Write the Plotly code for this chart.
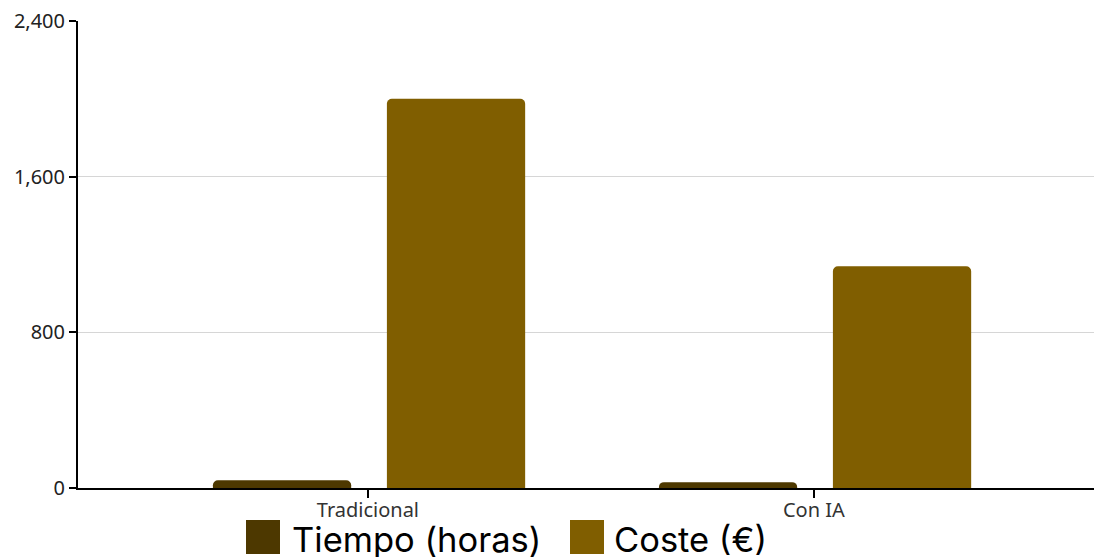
import plotly.graph_objects as go

# Data
categories = ["Tradicional", "Con IA"]
tiempo_horas = [40, 30]
coste_eur = [2000, 1140]
y_ticks = [0, 800, 1600, 2400]

series_names = ["Tiempo (horas)", "Coste (€)"]
colors = ["#4d3800", "#805e00"]

W, H = 1094, 557
M_L, M_R, M_T, M_B = 78, 0, 21, 69
PLOT_W = W - M_L - M_R
PLOT_H = H - M_T - M_B


def px_x(x):
    return (x - M_L) / PLOT_W


def px_y(y):
    return (H - M_B - y) / PLOT_H


FONT = "Noto Sans, Open Sans, sans-serif"
LEGEND_FONT = "Inter"

fig = go.Figure()
bar_width = 0.31
offsets = [-0.3475, 0.0426]
for name, vals, col, off in zip(series_names, [tiempo_horas, coste_eur], colors, offsets):
    fig.add_trace(go.Bar(
        x=categories, y=vals, name=name,
        marker=dict(color=col, line=dict(width=0)),
        width=bar_width, offset=off,
        showlegend=False, hoverinfo="skip",
    ))

# Custom legend below the chart
legend_items = [
    (series_names[0], colors[0], 246, 290),
    (series_names[1], colors[1], 570, 612),
]
for label, col, sq_x, tx_x in legend_items:
    fig.add_shape(
        type="rect", xref="paper", yref="paper",
        x0=px_x(sq_x), x1=px_x(sq_x + 34),
        y0=px_y(520), y1=px_y(554),
        fillcolor=col, line=dict(width=0),
    )
    fig.add_annotation(
        xref="paper", yref="paper", x=px_x(tx_x), y=px_y(539),
        text=label, showarrow=False, xanchor="left", yanchor="middle",
        font=dict(family=LEGEND_FONT, size=34.5, color="#000000"),
    )

fig.update_layout(
    width=W, height=H,
    margin=dict(l=M_L, r=M_R, t=M_T, b=M_B),
    paper_bgcolor="white", plot_bgcolor="white",
    barmode="group", barcornerradius=5,
    showlegend=False,
    font=dict(family=FONT, color="#222222"),
)
fig.update_xaxes(
    range=[-0.65, 1.628],
    showline=True, linecolor="#000000", linewidth=2,
    ticks="outside", ticklen=8, tickwidth=2, tickcolor="#000000",
    ticklabelstandoff=-5,
    tickfont=dict(family=FONT, size=20, color="#333333"),
    showgrid=False, zeroline=False, fixedrange=True,
)
fig.update_yaxes(
    range=[0, 2400],
    tickvals=y_ticks, tickformat=",",
    showline=True, linecolor="#000000", linewidth=2,
    ticks="outside", ticklen=7, tickwidth=2, tickcolor="#000000",
    tickfont=dict(family=FONT, size=20, color="#222222"),
    showgrid=True, gridcolor="#d6d6d6", gridwidth=1,
    zeroline=False, fixedrange=True,
)

fig.write_html("out.html", config={"displayModeBar": False})
